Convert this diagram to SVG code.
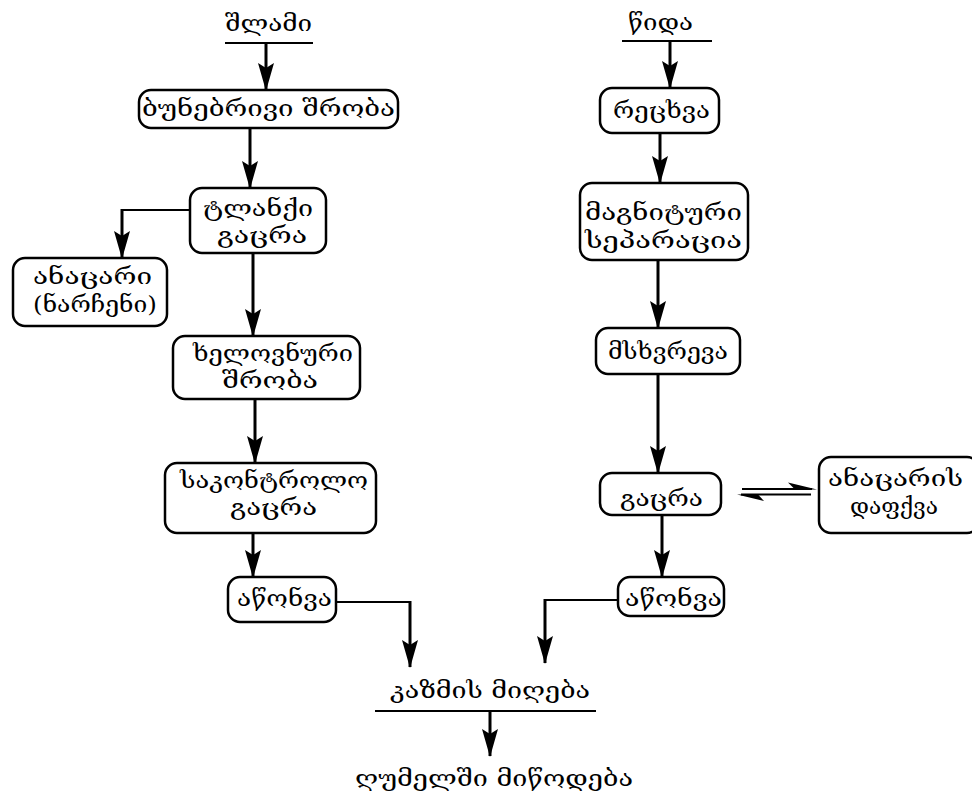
<svg xmlns="http://www.w3.org/2000/svg" width="972" height="800" viewBox="0 0 972 800">
<style>
.box{fill:#fff;stroke:#000;stroke-width:2.5}
.t{font-family:"DejaVu Serif",serif;font-size:22px;fill:#000;text-anchor:middle}
.arr{stroke:#000;stroke-width:3;fill:none;marker-end:url(#ah)}
.ln{stroke:#000;stroke-width:2;fill:none}
</style>
<defs>
<marker id="ah" viewBox="0 0 28 16" refX="27" refY="8" markerWidth="28" markerHeight="16" orient="auto" markerUnits="userSpaceOnUse">
<path d="M0,0 L28,8 L0,16 L5,8 Z" fill="#000"/>
</marker>
</defs>
<rect width="972" height="800" fill="#fff"/>
<g id="connectors">
<line class="ln" x1="225" y1="43" x2="313" y2="43"/>
<line class="arr" x1="266" y1="43" x2="266" y2="90"/>
<line class="arr" x1="250" y1="128" x2="250" y2="188"/>
<polyline class="ln" points="195,210 122,210 122,212"/>
<line class="arr" x1="122" y1="209" x2="122" y2="258"/>
<line class="arr" x1="253" y1="253" x2="253" y2="336"/>
<line class="arr" x1="255" y1="399" x2="255" y2="463"/>
<line class="arr" x1="253" y1="533" x2="253" y2="577"/>
<polyline class="ln" points="336,602 410,602 410,604"/>
<line class="arr" x1="410" y1="601" x2="410" y2="667"/>
<line class="ln" x1="622" y1="41" x2="712" y2="41"/>
<line class="arr" x1="670" y1="41" x2="670" y2="88"/>
<line class="arr" x1="660" y1="133" x2="660" y2="183"/>
<line class="arr" x1="658" y1="260" x2="658" y2="328"/>
<line class="arr" x1="658" y1="374" x2="658" y2="473"/>
<line class="arr" x1="662" y1="515" x2="662" y2="577"/>
<polyline class="ln" points="618,600 545,600 545,602"/>
<line class="arr" x1="545" y1="599" x2="545" y2="663"/>
<line class="ln" x1="375" y1="711" x2="596" y2="711"/>
<line class="arr" x1="490" y1="711" x2="490" y2="756"/>
<line class="ln" x1="742" y1="489" x2="812" y2="489"/>
<polygon points="817,489.5 788,482.5 795,489.5" fill="#000"/>
<line class="ln" x1="741" y1="494.5" x2="811" y2="494.5"/>
<polygon points="737,494.5 764,501 758,494.5" fill="#000"/>
</g>
<g id="n-shlami"><text class="t" x="268.5" y="31" textLength="87" lengthAdjust="spacingAndGlyphs">შლამი</text></g>
<g id="n-bunebrivi"><rect class="box" x="139" y="90" width="259" height="38" rx="12"/><text class="t" x="268.5" y="116" textLength="253" lengthAdjust="spacingAndGlyphs">ბუნებრივი  შრობა</text></g>
<g id="n-tlanqi"><rect class="box" x="190" y="188" width="136" height="65" rx="12"/><text class="t" x="258" y="216" textLength="110" lengthAdjust="spacingAndGlyphs">ტლანქი</text><text class="t" x="262" y="243" textLength="90" lengthAdjust="spacingAndGlyphs">გაცრა</text></g>
<g id="n-anacari"><rect class="box" x="13" y="258" width="154" height="68" rx="12"/><text class="t" x="92.5" y="284" textLength="119" lengthAdjust="spacingAndGlyphs">ანაცარი</text><text class="t" x="95" y="312" textLength="124" lengthAdjust="spacingAndGlyphs">(ნარჩენი)</text></g>
<g id="n-khelovnuri"><rect class="box" x="173" y="336" width="187" height="63" rx="12"/><text class="t" x="273" y="361" textLength="160" lengthAdjust="spacingAndGlyphs">ხელოვნური</text><text class="t" x="270" y="388" textLength="96" lengthAdjust="spacingAndGlyphs">შრობა</text></g>
<g id="n-sakontrolo"><rect class="box" x="165" y="463" width="211" height="70" rx="12"/><text class="t" x="274" y="488" textLength="188" lengthAdjust="spacingAndGlyphs">საკონტროლო</text><text class="t" x="273.5" y="515" textLength="87" lengthAdjust="spacingAndGlyphs">გაცრა</text></g>
<g id="n-atsonva1"><rect class="box" x="228" y="577" width="108" height="45" rx="12"/><text class="t" x="284.5" y="606" textLength="95" lengthAdjust="spacingAndGlyphs">აწონვა</text></g>
<g id="n-tsida"><text class="t" x="660.5" y="30" textLength="65" lengthAdjust="spacingAndGlyphs">წიდა</text></g>
<g id="n-retskhva"><rect class="box" x="600" y="88" width="119" height="45" rx="12"/><text class="t" x="661.5" y="118" textLength="97" lengthAdjust="spacingAndGlyphs">რეცხვა</text></g>
<g id="n-magnituri"><rect class="box" x="580" y="183" width="168" height="77" rx="12"/><text class="t" x="663.5" y="220" textLength="157" lengthAdjust="spacingAndGlyphs">მაგნიტური</text><text class="t" x="663.5" y="248" textLength="157" lengthAdjust="spacingAndGlyphs">სეპარაცია</text></g>
<g id="n-mskhvreva"><rect class="box" x="596" y="328" width="144" height="46" rx="12"/><text class="t" x="668" y="359" textLength="120" lengthAdjust="spacingAndGlyphs">მსხვრევა</text></g>
<g id="n-gatsra"><rect class="box" x="600" y="473" width="121" height="42" rx="12"/><text class="t" x="661.5" y="506" textLength="83" lengthAdjust="spacingAndGlyphs">გაცრა</text></g>
<g id="n-anacaris"><rect class="box" x="819" y="457" width="160" height="76" rx="12"/><text class="t" x="895.5" y="486" textLength="135" lengthAdjust="spacingAndGlyphs">ანაცარის</text><text class="t" x="894" y="514" textLength="88" lengthAdjust="spacingAndGlyphs">დაფქვა</text></g>
<g id="n-atsonva2"><rect class="box" x="618" y="577" width="106" height="39" rx="12"/><text class="t" x="673.5" y="606" textLength="97" lengthAdjust="spacingAndGlyphs">აწონვა</text></g>
<g id="n-kazmis"><text class="t" x="490" y="698" textLength="200" lengthAdjust="spacingAndGlyphs">კაზმის  მიღება</text></g>
<g id="n-gumelshi"><text class="t" x="494" y="786" textLength="278" lengthAdjust="spacingAndGlyphs">ღუმელში  მიწოდება</text></g>
</svg>
